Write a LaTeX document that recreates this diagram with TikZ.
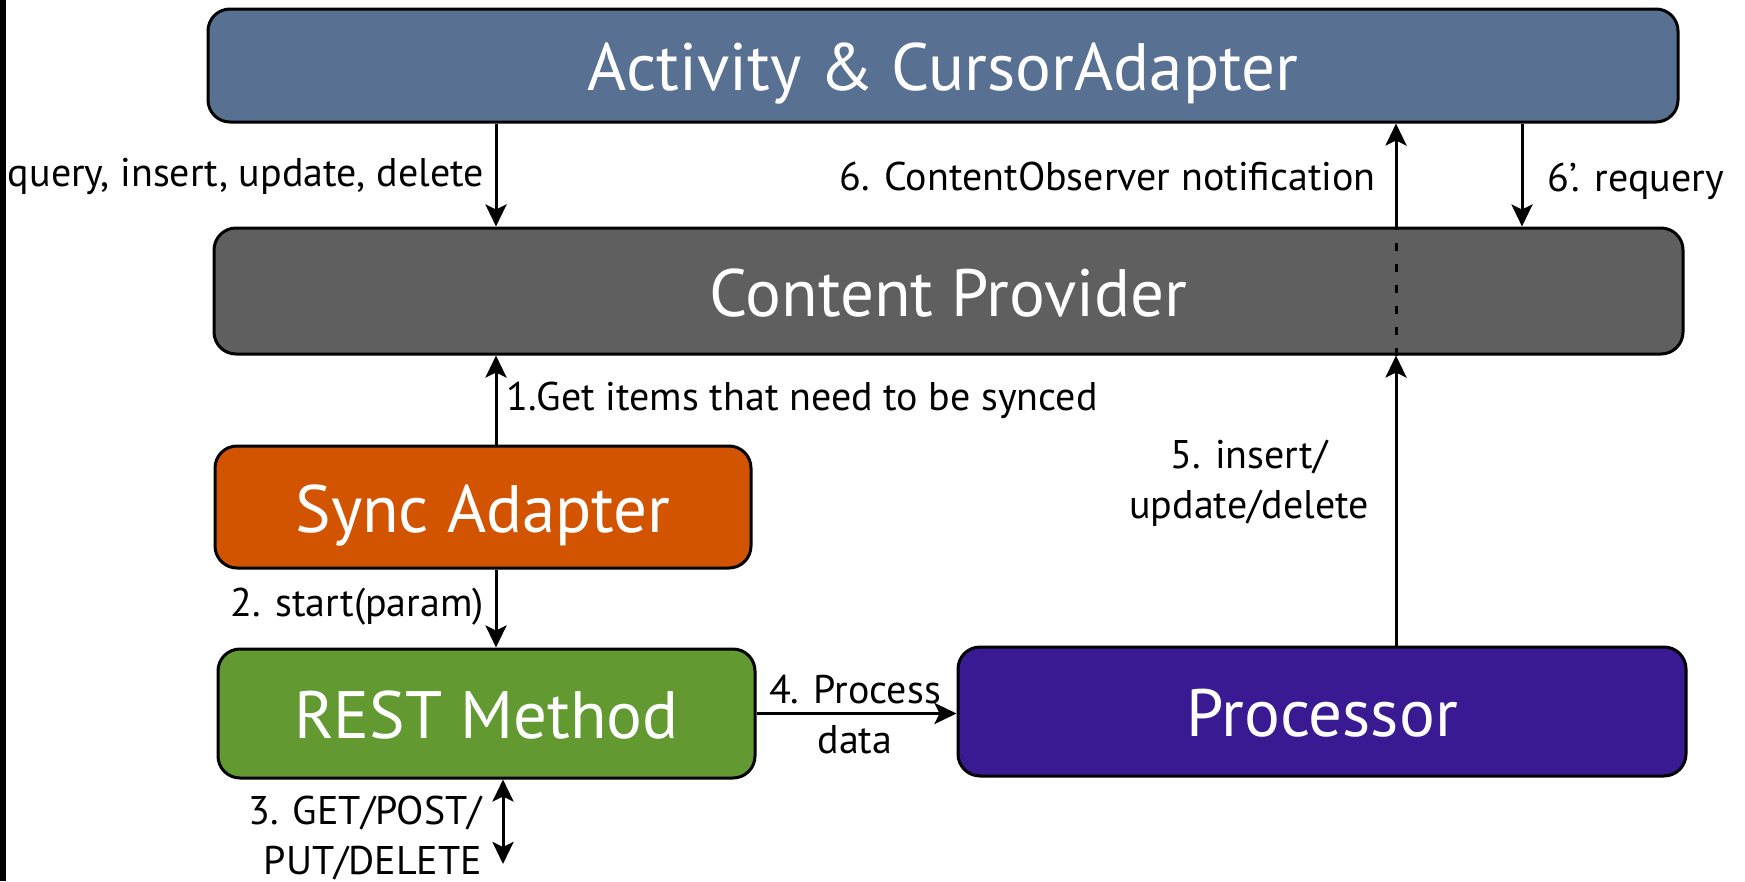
\documentclass[tikz,border=0pt]{standalone}
\usepackage{fontspec}
\setmainfont{PT Sans}
\usetikzlibrary{arrows.meta}
\definecolor{andSlate}{HTML}{587092}
\definecolor{andGrey}{HTML}{5F5F5F}
\definecolor{andOrange}{HTML}{D35400}
\definecolor{andGreen}{HTML}{629A31}
\definecolor{andIndigo}{HTML}{3A1A93}

\begin{document}
\begin{tikzpicture}[x=1pt,y=-1pt,>={Stealth[length=22pt,width=21pt,inset=5pt]},line join=round]
\useasboundingbox (0,0) rectangle (1745,881);
\path[fill=white] (0,0) rectangle (1745,881);
\path[fill=black] (0,0) rectangle (6,881);
\tikzset{box/.style={draw=black,line width=3pt,rounded corners=22pt,text=white,inner sep=0pt,text height=50pt,text depth=0pt,font=\fontsize{67}{70}\selectfont},lbl/.style={inner sep=0pt,font=\fontsize{40}{50}\selectfont},link/.style={draw=black,line width=3pt,->}}
\node[box,fill=andSlate,minimum width=1470pt,minimum height=113pt] (act) at (943,65.5) {Activity \& CursorAdapter};
\node[box,fill=andGrey,minimum width=1469pt,minimum height=126pt] (cp) at (948.5,291) {Content Provider};
\node[box,fill=andOrange,minimum width=536pt,minimum height=122pt] (sync) at (483,507) {Sync Adapter};
\node[box,fill=andGreen,minimum width=537pt,minimum height=129pt] (rest) at (486.5,713.5) {REST Method};
\node[box,fill=andIndigo,minimum width=728pt,minimum height=129pt] (proc) at (1322,711.5) {Processor};
% arrow columns
\coordinate (colL) at (496,0); \coordinate (colG) at (503,0);
\coordinate (colN) at (1396,0); \coordinate (colR) at (1522,0);
\coordinate (net) at (503,864);
\draw[link] (act.south -| colL) -- (cp.north -| colL);
\draw[link] (sync.north -| colL) -- (cp.south -| colL);
\draw[link] (sync.south -| colL) -- (rest.north -| colL);
\draw[link,<->] (rest.south -| colG) -- (net);
\draw[link] (rest.east) -- (rest.east -| proc.west);
\draw[link] (proc.north -| colN) -- (cp.south -| colN);
\draw[draw=black,line width=3pt,dash pattern=on 8pt off 13pt] (cp.south -| colN) -- (cp.north -| colN);
\draw[link] (cp.north -| colN) -- (act.south -| colN);
\draw[link] (act.south -| colR) -- (cp.north -| colR);
% labels
\node[lbl,anchor=east] (lQuery) at (484,176) {query, insert, update, delete};
\node[lbl,anchor=east] (lNotify) at (1376,176) {6. ContentObserver notification};
\node[lbl,anchor=west] (lRequery) at (1547,181) {6’. requery};
\node[lbl,anchor=west] (lGet) at (506,400) {1.Get items that need to be synced};
\node[lbl,align=center] (lInsert) at (1249,483) {5. insert/\\update/delete};
\node[lbl,anchor=east] (lStart) at (484,607) {2. start(param)};
\node[lbl,align=center] (lProcess) at (855,715) {4. Process\\data};
\node[lbl,anchor=east,align=right] (lHttp) at (482,838) {3. GET/POST/\\PUT/DELETE};
\end{tikzpicture}
\end{document}
